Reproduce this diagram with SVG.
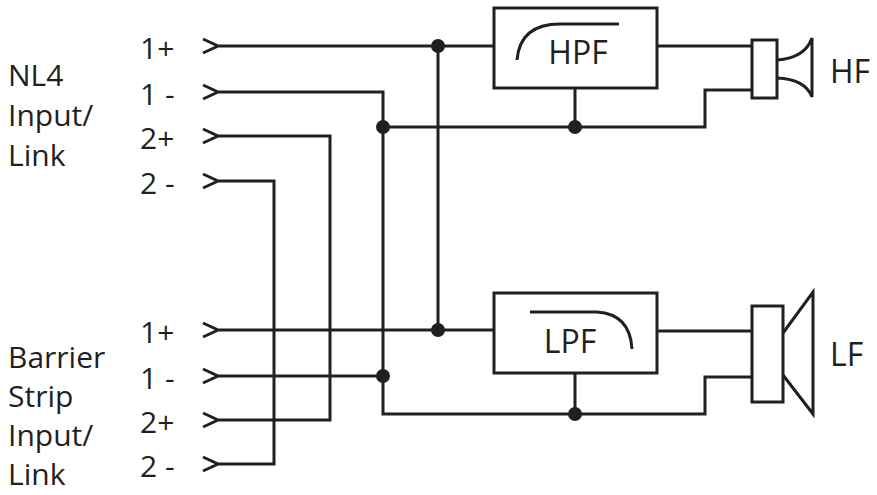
<svg xmlns="http://www.w3.org/2000/svg" width="877" height="495" viewBox="0 0 877 495">
<style>
.w{fill:none;stroke:#231f20;stroke-width:3}
.b{fill:#fff;stroke:#231f20;stroke-width:3}
.d{fill:#231f20}
text{font-family:"Open Sans","Liberation Sans",sans-serif;font-size:30px;fill:#231f20}
.f{font-size:32px}
</style>
<rect width="877" height="495" fill="#fff"/>
<g id="connectors">
<path class="w" d="M203,39 L218,46 L203,53 M218,46 H494"/>
<path class="w" d="M203,85 L218,92 L203,99 M218,92 H383 V414 H705 V377 H752"/>
<path class="w" d="M203,129 L218,136 L203,143 M218,136 H330 V420 H218 M203,413 L218,420 L203,427"/>
<path class="w" d="M203,174 L218,181 L203,188 M218,181 H274 V464 H218 M203,457 L218,464 L203,471"/>
<path class="w" d="M203,323 L218,330 L203,337 M218,330 H494"/>
<path class="w" d="M203,369 L218,376 L203,383 M218,376 H383"/>
<path class="w" d="M438,46 V330"/>
<path class="w" d="M383,127 H705 V90 H752"/>
<path class="w" d="M575,127 V88 M575,414 V373"/>
<path class="w" d="M657,46 H752 M657,331 H752"/>
<circle class="d" cx="438" cy="46" r="7"/>
<circle class="d" cx="438" cy="330" r="7"/>
<circle class="d" cx="383" cy="127" r="7"/>
<circle class="d" cx="383" cy="376" r="7"/>
<circle class="d" cx="575" cy="127" r="7"/>
<circle class="d" cx="575" cy="414" r="7"/>
</g>
<g id="labels">
<text x="140" y="59">1+</text><text x="140" y="105">1 -</text><text x="140" y="149">2+</text><text x="140" y="194">2 -</text>
<text x="140" y="343">1+</text><text x="140" y="389">1 -</text><text x="140" y="433">2+</text><text x="140" y="477">2 -</text>
<text x="8" y="86">NL4</text><text x="8" y="126">Input/</text><text x="8" y="166">Link</text>
<text x="8" y="368">Barrier</text><text x="8" y="407">Strip</text><text x="8" y="446">Input/</text><text x="8" y="485">Link</text>
</g>
<g id="hpf">
<rect class="b" x="494" y="8" width="163" height="80"/>
<path class="w" d="M517,60 Q520,24 560,24 H619"/>
<text class="f" x="578" y="64" text-anchor="middle">HPF</text>
</g>
<g id="lpf">
<rect class="b" x="494" y="293" width="163" height="80"/>
<path class="w" d="M530,312 H597 Q630,314 632,349"/>
<text class="f" x="570" y="353" text-anchor="middle">LPF</text>
</g>
<g id="hf">
<rect class="b" x="752" y="40" width="25" height="58"/>
<path class="w" d="M777,60 Q805,58 812,38 V97 Q805,79 777,78"/>
<text class="f" x="830" y="83">HF</text>
</g>
<g id="lf">
<rect class="b" x="752" y="306" width="31" height="96"/>
<path class="w" d="M783,333 L813,292 V414 L783,375"/>
<text class="f" x="830" y="366">LF</text>
</g>
</svg>
